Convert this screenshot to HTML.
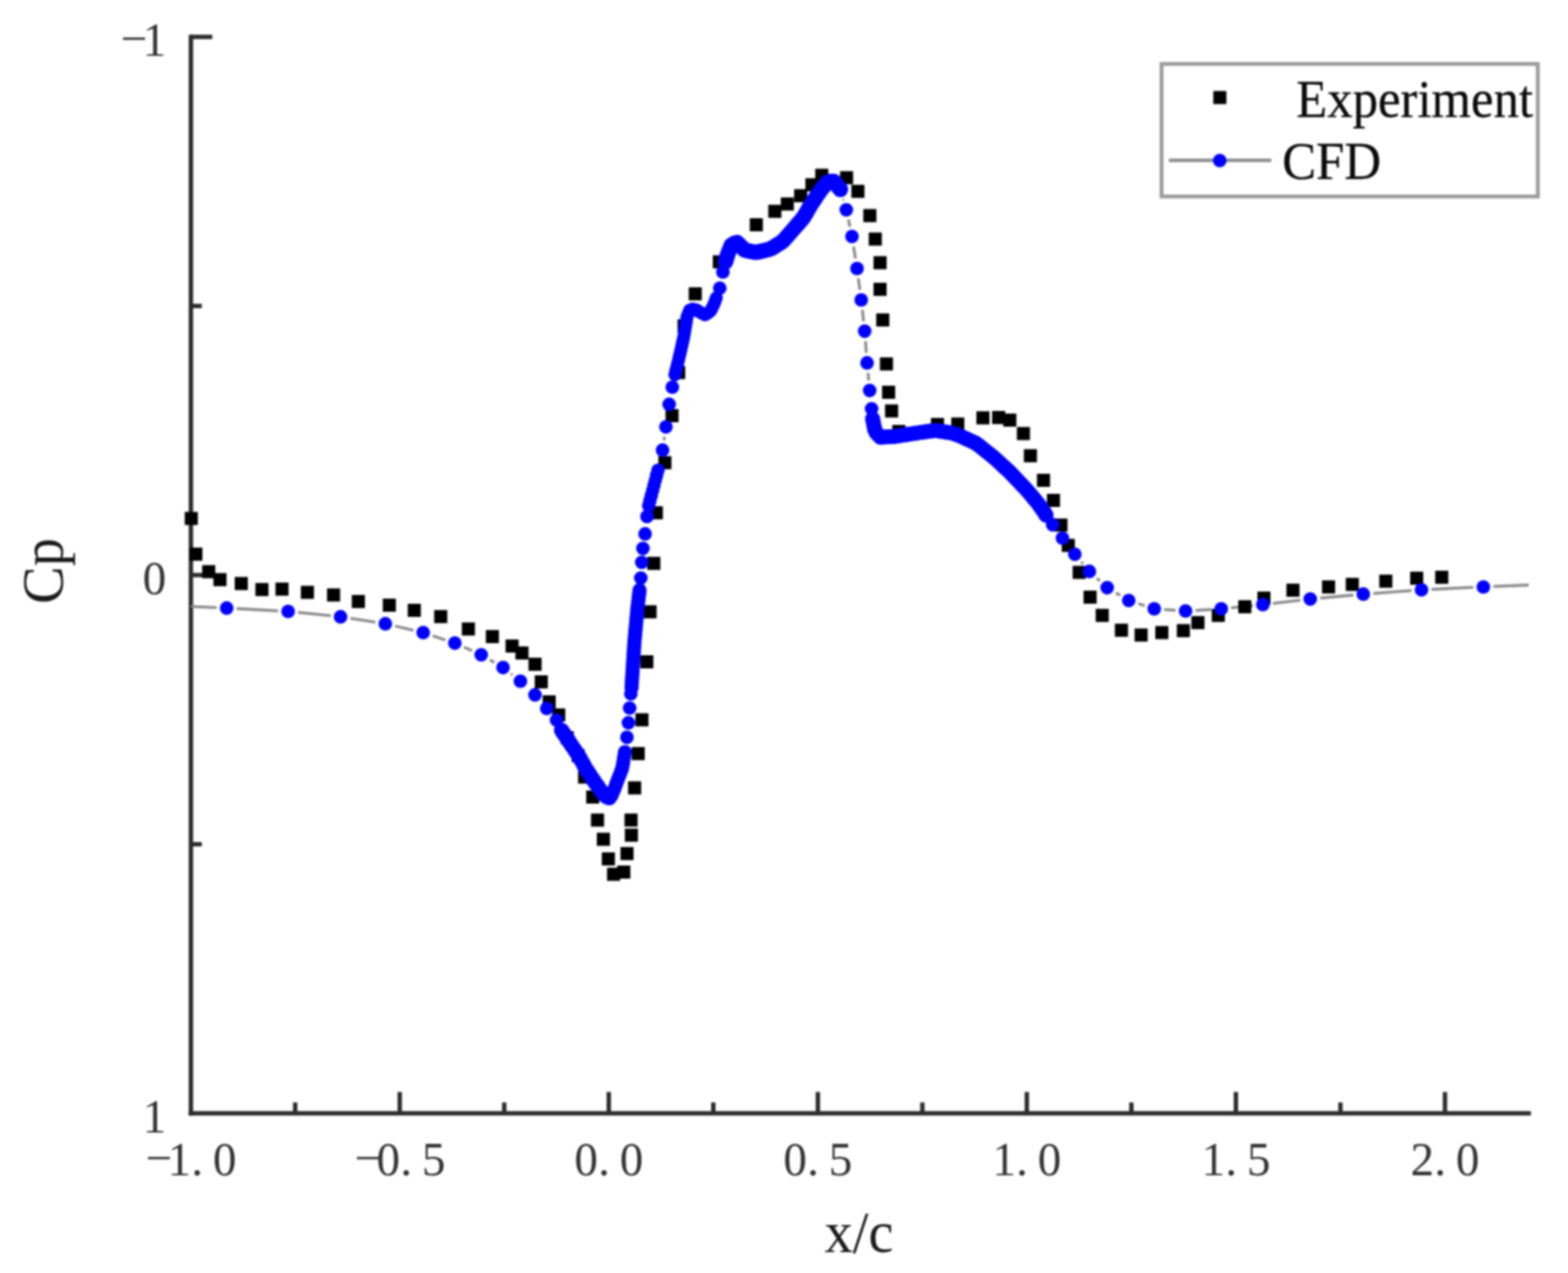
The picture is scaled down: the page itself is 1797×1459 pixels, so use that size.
<!DOCTYPE html>
<html lang="en">
<head>
<meta charset="utf-8">
<title>Cp distribution: Experiment vs CFD</title>
<style>
html,body{margin:0;padding:0;background:#fff;}
body{width:1797px;height:1459px;overflow:hidden;}
svg{display:block;filter:blur(1.0px);}
.tick{font-family:"Liberation Serif","Noto Serif CJK SC",serif;font-size:54px;fill:#333;}
.lab{font-family:"Liberation Serif",serif;font-size:64.7px;fill:#1a1a1a;}
.leg{font-family:"Liberation Serif",serif;font-size:58.2px;fill:#0a0a0a;stroke:#0a0a0a;stroke-width:0.3px;}
</style>
</head>
<body>
<svg width="1797" height="1459" viewBox="0 0 1797 1459">
<rect x="0" y="0" width="1797" height="1459" fill="#ffffff"/>
<g id="axes" stroke="#2b2b2b" stroke-width="5" fill="none" stroke-linecap="butt">
<path d="M218.8 39.8 V1278.5"/>
<path d="M216.3 1276 H1754.5"/>
<path d="M218.8 42.3 H243.3"/>
<path d="M218.8 350.7 H231.3"/>
<path d="M218.8 659.1 H243.3"/>
<path d="M218.8 967.6 H231.3"/>
<path d="M338.3 1276 V1263.5"/>
<path d="M458.1 1276 V1251.5"/>
<path d="M577.9 1276 V1263.5"/>
<path d="M697.7 1276 V1251.5"/>
<path d="M817.5 1276 V1263.5"/>
<path d="M937.3 1276 V1251.5"/>
<path d="M1057.1 1276 V1263.5"/>
<path d="M1176.8 1276 V1251.5"/>
<path d="M1296.6 1276 V1263.5"/>
<path d="M1416.4 1276 V1251.5"/>
<path d="M1536.2 1276 V1263.5"/>
<path d="M1656 1276 V1251.5"/>
</g>
<g id="ticklabels" class="tick">
<text text-anchor="middle" x="182.1 205.6 226.1 257.6" y="1345 1347 1347 1347">−1.0</text>
<text text-anchor="middle" x="421.6 445.1 465.6 497.1" y="1345 1347 1347 1347">−0.5</text>
<text text-anchor="middle" x="671.7 692.2 723.7" y="1347 1347 1347">0.0</text>
<text text-anchor="middle" x="911.3 931.8 963.3" y="1347 1347 1347">0.5</text>
<text text-anchor="middle" x="1150.8 1171.3 1202.8" y="1347 1347 1347">1.0</text>
<text text-anchor="middle" x="1390.4 1410.9 1442.4" y="1347 1347 1347">1.5</text>
<text text-anchor="middle" x="1630 1650.5 1682" y="1347 1347 1347">2.0</text>
<text text-anchor="middle" x="153.5 177" y="62 64">−1</text>
<text text-anchor="middle" x="177" y="681">0</text>
<text text-anchor="middle" x="177" y="1297.5">1</text>
</g>
<text class="lab" transform="translate(984.5 1435) scale(1 1.05)" text-anchor="middle">x/c</text>
<text class="lab" transform="translate(71.5 654.5) rotate(-90) scale(1 1.05)" text-anchor="middle">Cp</text>
<g id="cfd-line" stroke="#8c8c8c" stroke-width="3.3" fill="none">
<path d="M219 695.2L248.3 696.4M271.3 697.5L318.7 700.1M341.6 701.9L378.9 705.7M401.7 708.7L430.2 713.1M452.8 717.5L473.8 722.4M495.9 728.6L510.4 733.5M531.8 741.8L541 745.8M561.4 756.3L566.6 759.3M585.6 772.2L587.3 773.6M756.6 527.7L756.7 527.1M761 504.5L761.5 500.6M764.8 477.8L765.3 474.8M966.3 228.2L966.7 229.5M972.3 251.7L974 259.8M978.2 282.4L980.4 296.3M983.7 319.1L985.5 332.3M988.3 355.1L989.7 368.2M991.9 391.1L992.8 404.4M994.8 427.3L995.6 436.2M1239.2 644L1241.1 646.1M1257 662.7L1260.4 665.8M1278.8 679.5L1283.7 682.3M1304.5 691.8L1311.9 694.2M1334.3 698.6L1347.2 699.5M1370.2 699.6L1388.1 698.5M1411 696.6L1435.9 694.1M1458.7 691.6L1490.2 687.9M1513 685.5L1551 682M1573.9 680.1L1617.6 676.8M1640.6 675.5L1688.5 673.2M1711.5 672.2L1752 670.5"/>
</g>
<g id="experiment" fill="#000">
<rect x="211.7" y="586.7" width="15" height="15"/>
<rect x="217" y="627.6" width="15" height="15"/>
<rect x="231.7" y="647.7" width="15" height="15"/>
<rect x="244.6" y="656.8" width="15" height="15"/>
<rect x="269" y="661.3" width="15" height="15"/>
<rect x="292.7" y="668.2" width="15" height="15"/>
<rect x="315.7" y="667.7" width="15" height="15"/>
<rect x="344.8" y="671.4" width="15" height="15"/>
<rect x="374.8" y="674.4" width="15" height="15"/>
<rect x="403.2" y="681.9" width="15" height="15"/>
<rect x="438.7" y="686.1" width="15" height="15"/>
<rect x="467.3" y="692" width="15" height="15"/>
<rect x="497.6" y="699.2" width="15" height="15"/>
<rect x="529.3" y="713.4" width="15" height="15"/>
<rect x="556.8" y="722.1" width="15" height="15"/>
<rect x="579.4" y="732.9" width="15" height="15"/>
<rect x="590.7" y="740.9" width="15" height="15"/>
<rect x="605.7" y="753.8" width="15" height="15"/>
<rect x="612.8" y="774" width="15" height="15"/>
<rect x="621.9" y="796.9" width="15" height="15"/>
<rect x="632.8" y="811.9" width="15" height="15"/>
<rect x="642.5" y="838" width="15" height="15"/>
<rect x="655.1" y="858.5" width="15" height="15"/>
<rect x="662.5" y="883.1" width="15" height="15"/>
<rect x="671.8" y="906" width="15" height="15"/>
<rect x="677.3" y="932.4" width="15" height="15"/>
<rect x="684" y="954.4" width="15" height="15"/>
<rect x="689.7" y="976.9" width="15" height="15"/>
<rect x="695.7" y="994.5" width="15" height="15"/>
<rect x="707.4" y="992" width="15" height="15"/>
<rect x="711.1" y="970.8" width="15" height="15"/>
<rect x="716.1" y="949.7" width="15" height="15"/>
<rect x="715.7" y="932.4" width="15" height="15"/>
<rect x="719.8" y="895.5" width="15" height="15"/>
<rect x="723.9" y="856.2" width="15" height="15"/>
<rect x="728.2" y="817.5" width="15" height="15"/>
<rect x="733.8" y="751" width="15" height="15"/>
<rect x="737.5" y="693.7" width="15" height="15"/>
<rect x="741.8" y="638.2" width="15" height="15"/>
<rect x="744.7" y="580.2" width="15" height="15"/>
<rect x="754.5" y="522.8" width="15" height="15"/>
<rect x="762.7" y="468.9" width="15" height="15"/>
<rect x="770.3" y="419.5" width="15" height="15"/>
<rect x="776.5" y="366" width="15" height="15"/>
<rect x="789.3" y="329.3" width="15" height="15"/>
<rect x="816.9" y="292.6" width="15" height="15"/>
<rect x="859.3" y="250.1" width="15" height="15"/>
<rect x="880.5" y="234.7" width="15" height="15"/>
<rect x="894.8" y="226.3" width="15" height="15"/>
<rect x="910.1" y="216.8" width="15" height="15"/>
<rect x="923" y="204.3" width="15" height="15"/>
<rect x="934.3" y="193.4" width="15" height="15"/>
<rect x="962.7" y="196.2" width="15" height="15"/>
<rect x="975.7" y="211.8" width="15" height="15"/>
<rect x="989.4" y="239.6" width="15" height="15"/>
<rect x="995.6" y="266.5" width="15" height="15"/>
<rect x="1001.1" y="293.6" width="15" height="15"/>
<rect x="1001.1" y="324.1" width="15" height="15"/>
<rect x="1004.2" y="359.2" width="15" height="15"/>
<rect x="1008.4" y="409.6" width="15" height="15"/>
<rect x="1010.9" y="442.1" width="15" height="15"/>
<rect x="1014.3" y="463.5" width="15" height="15"/>
<rect x="1022.6" y="487" width="15" height="15"/>
<rect x="1066.9" y="479" width="15" height="15"/>
<rect x="1090.2" y="478.5" width="15" height="15"/>
<rect x="1119" y="471.4" width="15" height="15"/>
<rect x="1137" y="471" width="15" height="15"/>
<rect x="1149.8" y="474" width="15" height="15"/>
<rect x="1165.4" y="489.4" width="15" height="15"/>
<rect x="1173.4" y="514.8" width="15" height="15"/>
<rect x="1188.4" y="543" width="15" height="15"/>
<rect x="1199.8" y="566" width="15" height="15"/>
<rect x="1208.4" y="594.3" width="15" height="15"/>
<rect x="1216.8" y="617.6" width="15" height="15"/>
<rect x="1229.3" y="648.5" width="15" height="15"/>
<rect x="1241.8" y="676.9" width="15" height="15"/>
<rect x="1255.7" y="697.8" width="15" height="15"/>
<rect x="1277.7" y="714.8" width="15" height="15"/>
<rect x="1300.3" y="720.3" width="15" height="15"/>
<rect x="1324" y="717.5" width="15" height="15"/>
<rect x="1348.7" y="715.3" width="15" height="15"/>
<rect x="1365.4" y="706.1" width="15" height="15"/>
<rect x="1388.7" y="697.8" width="15" height="15"/>
<rect x="1419.1" y="687.9" width="15" height="15"/>
<rect x="1441" y="678" width="15" height="15"/>
<rect x="1474.3" y="668.9" width="15" height="15"/>
<rect x="1515.1" y="665.2" width="15" height="15"/>
<rect x="1542.3" y="662.3" width="15" height="15"/>
<rect x="1580.7" y="658.6" width="15" height="15"/>
<rect x="1616.1" y="655.2" width="15" height="15"/>
<rect x="1644.8" y="654.1" width="15" height="15"/>
</g>
<g id="cfd" fill="#0000ff">
<circle cx="259.8" cy="696.9" r="7.8"/>
<circle cx="330.2" cy="700.7" r="7.8"/>
<circle cx="390.3" cy="706.9" r="7.8"/>
<circle cx="441.6" cy="714.9" r="7.8"/>
<circle cx="485" cy="725" r="7.8"/>
<circle cx="521.3" cy="737.1" r="7.8"/>
<circle cx="551.5" cy="750.5" r="7.8"/>
<circle cx="576.5" cy="765.1" r="7.8"/>
<circle cx="596.4" cy="780.7" r="7.8"/>
<circle cx="613.1" cy="796.4" r="7.8"/>
<circle cx="626.6" cy="811.9" r="7.8"/>
<circle cx="637.8" cy="825.2" r="7.8"/>
<circle cx="643.6" cy="837" r="8.8"/>
<circle cx="645.8" cy="840.3" r="8.8"/>
<circle cx="648" cy="843.6" r="8.8"/>
<circle cx="650.3" cy="847" r="8.8"/>
<circle cx="652.5" cy="850.3" r="8.8"/>
<circle cx="654.7" cy="853.6" r="8.8"/>
<circle cx="656.9" cy="856.9" r="8.8"/>
<circle cx="659.2" cy="860.3" r="8.8"/>
<circle cx="661.4" cy="863.6" r="8.8"/>
<circle cx="663.5" cy="867" r="8.8"/>
<circle cx="665.5" cy="870.5" r="8.8"/>
<circle cx="667.5" cy="873.9" r="8.8"/>
<circle cx="669.4" cy="877.4" r="8.8"/>
<circle cx="671.4" cy="880.9" r="8.8"/>
<circle cx="673.6" cy="884.2" r="8.8"/>
<circle cx="675.8" cy="887.6" r="8.8"/>
<circle cx="678" cy="890.9" r="8.8"/>
<circle cx="680.2" cy="894.3" r="8.8"/>
<circle cx="682.5" cy="897.6" r="8.8"/>
<circle cx="684.8" cy="900.8" r="8.8"/>
<circle cx="687.1" cy="904.1" r="8.8"/>
<circle cx="689.4" cy="907.4" r="8.8"/>
<circle cx="692.2" cy="910.2" r="8.8"/>
<circle cx="695.1" cy="913" r="8.8"/>
<circle cx="698.2" cy="914.2" r="8.8"/>
<circle cx="701" cy="911.5" r="8"/>
<circle cx="702.6" cy="907.8" r="8"/>
<circle cx="704.2" cy="904.2" r="8"/>
<circle cx="705.5" cy="900.4" r="8"/>
<circle cx="706.9" cy="896.6" r="8"/>
<circle cx="708.3" cy="892.9" r="8"/>
<circle cx="709.8" cy="889.2" r="8"/>
<circle cx="711.2" cy="885.4" r="8"/>
<circle cx="712.7" cy="881.7" r="8"/>
<circle cx="713.6" cy="877.8" r="8"/>
<circle cx="714.2" cy="873.9" r="8"/>
<circle cx="714.9" cy="869.9" r="8"/>
<circle cx="715.5" cy="866" r="8"/>
<circle cx="716.2" cy="862" r="8"/>
<circle cx="718.5" cy="845.1" r="7.8"/>
<circle cx="720.2" cy="828.4" r="7.8"/>
<circle cx="721.6" cy="811.5" r="7.8"/>
<circle cx="723" cy="795.2" r="7.8"/>
<circle cx="723.8" cy="788" r="8.2"/>
<circle cx="724" cy="784" r="8.2"/>
<circle cx="724.3" cy="780" r="8.2"/>
<circle cx="724.5" cy="776" r="8.2"/>
<circle cx="724.8" cy="772" r="8.2"/>
<circle cx="725" cy="768" r="8.2"/>
<circle cx="725.3" cy="764" r="8.2"/>
<circle cx="725.5" cy="760.1" r="8.2"/>
<circle cx="725.8" cy="756.1" r="8.2"/>
<circle cx="726" cy="752.1" r="8.2"/>
<circle cx="726.3" cy="748.1" r="8.2"/>
<circle cx="726.5" cy="744.1" r="8.2"/>
<circle cx="726.8" cy="740.1" r="8.2"/>
<circle cx="727.1" cy="736.1" r="8.2"/>
<circle cx="727.4" cy="732.1" r="8.2"/>
<circle cx="727.8" cy="728.1" r="8.2"/>
<circle cx="728.1" cy="724.1" r="8.2"/>
<circle cx="728.5" cy="720.2" r="8.2"/>
<circle cx="728.8" cy="716.2" r="8.2"/>
<circle cx="729.2" cy="712.2" r="8.2"/>
<circle cx="729.5" cy="708.2" r="8.2"/>
<circle cx="729.9" cy="704.2" r="8.2"/>
<circle cx="730.2" cy="700.2" r="8.2"/>
<circle cx="730.6" cy="696.3" r="8.2"/>
<circle cx="731.1" cy="692.3" r="8.2"/>
<circle cx="731.6" cy="688.3" r="8.2"/>
<circle cx="732" cy="684.3" r="8.2"/>
<circle cx="732.5" cy="680.4" r="8.2"/>
<circle cx="732.9" cy="676.5" r="8.2"/>
<circle cx="734.4" cy="662.6" r="7.8"/>
<circle cx="735.5" cy="644.5" r="7.8"/>
<circle cx="736.8" cy="628.6" r="7.8"/>
<circle cx="739.3" cy="611.9" r="7.8"/>
<circle cx="741.5" cy="591.9" r="7.8"/>
<circle cx="743.4" cy="579.5" r="7.7"/>
<circle cx="744.9" cy="573.7" r="7.7"/>
<circle cx="746.4" cy="567.9" r="7.7"/>
<circle cx="748" cy="562.1" r="7.7"/>
<circle cx="749.5" cy="556.3" r="7.7"/>
<circle cx="751" cy="550.5" r="7.7"/>
<circle cx="752.5" cy="544.7" r="7.7"/>
<circle cx="754.1" cy="538.9" r="7.7"/>
<circle cx="759.3" cy="515.9" r="7.8"/>
<circle cx="763.2" cy="489.2" r="7.8"/>
<circle cx="766.9" cy="463.4" r="7.8"/>
<circle cx="770.5" cy="443.7" r="7.8"/>
<circle cx="773.5" cy="429.5" r="7.5"/>
<circle cx="774.4" cy="425.6" r="7.5"/>
<circle cx="775.4" cy="421.7" r="7.5"/>
<circle cx="776.3" cy="417.8" r="7.5"/>
<circle cx="777.3" cy="414" r="7.5"/>
<circle cx="778.2" cy="410.1" r="7.5"/>
<circle cx="779.1" cy="406.2" r="7.5"/>
<circle cx="780" cy="402.3" r="7.5"/>
<circle cx="780.9" cy="398.4" r="7.5"/>
<circle cx="781.8" cy="394.5" r="7.5"/>
<circle cx="782.7" cy="390.6" r="7.5"/>
<circle cx="783.5" cy="386.7" r="7.5"/>
<circle cx="784.2" cy="382.7" r="7.5"/>
<circle cx="784.9" cy="378.8" r="7.5"/>
<circle cx="785.5" cy="374.8" r="7.5"/>
<circle cx="786.2" cy="370.9" r="7.5"/>
<circle cx="786.8" cy="366.9" r="7.5"/>
<circle cx="787.4" cy="363" r="7.5"/>
<circle cx="788.8" cy="359.3" r="7.5"/>
<circle cx="790.5" cy="355.6" r="7.5"/>
<circle cx="793.8" cy="354.2" r="7.5"/>
<circle cx="797.5" cy="354.9" r="7.5"/>
<circle cx="800.9" cy="357" r="7.5"/>
<circle cx="804.4" cy="358.9" r="7.5"/>
<circle cx="808" cy="360.8" r="7.5"/>
<circle cx="811.3" cy="358.7" r="7.5"/>
<circle cx="814.4" cy="356.2" r="7.5"/>
<circle cx="816.2" cy="352.7" r="7.5"/>
<circle cx="818" cy="349.1" r="7.5"/>
<circle cx="819.4" cy="345.4" r="7.5"/>
<circle cx="820.9" cy="341.6" r="7.5"/>
<circle cx="824.9" cy="330.2" r="7.8"/>
<circle cx="828.5" cy="311.8" r="7.8"/>
<circle cx="831.5" cy="300" r="9"/>
<circle cx="832.6" cy="296.2" r="9"/>
<circle cx="833.8" cy="292.3" r="9"/>
<circle cx="835.1" cy="288.6" r="9"/>
<circle cx="836.6" cy="284.9" r="9"/>
<circle cx="838.2" cy="281.2" r="9"/>
<circle cx="841.2" cy="279" r="9"/>
<circle cx="844.8" cy="278" r="9"/>
<circle cx="847.6" cy="280.8" r="9"/>
<circle cx="850.4" cy="283.6" r="9"/>
<circle cx="853.3" cy="286.5" r="9"/>
<circle cx="857.1" cy="287.4" r="9"/>
<circle cx="861" cy="288.2" r="9"/>
<circle cx="864.9" cy="288.9" r="9"/>
<circle cx="868.8" cy="288.8" r="9"/>
<circle cx="872.7" cy="287.8" r="9"/>
<circle cx="876.6" cy="286.9" r="9"/>
<circle cx="880.5" cy="285.9" r="9"/>
<circle cx="884.2" cy="284.7" r="9"/>
<circle cx="887.6" cy="282.6" r="9"/>
<circle cx="891" cy="280.4" r="9"/>
<circle cx="894.4" cy="278.3" r="9"/>
<circle cx="897.6" cy="276" r="9"/>
<circle cx="900.3" cy="273" r="9"/>
<circle cx="902.9" cy="270" r="9"/>
<circle cx="905.6" cy="267" r="9"/>
<circle cx="908.2" cy="264" r="9"/>
<circle cx="910.8" cy="261" r="9"/>
<circle cx="913.5" cy="257.9" r="9"/>
<circle cx="916.1" cy="254.9" r="9"/>
<circle cx="918.7" cy="251.9" r="9"/>
<circle cx="921.1" cy="248.8" r="9"/>
<circle cx="923.2" cy="245.3" r="9"/>
<circle cx="925.2" cy="241.9" r="9"/>
<circle cx="927.2" cy="238.4" r="9"/>
<circle cx="929.2" cy="235" r="9"/>
<circle cx="931.4" cy="231.6" r="9"/>
<circle cx="933.6" cy="228.3" r="9"/>
<circle cx="935.8" cy="224.9" r="9"/>
<circle cx="938.1" cy="221.6" r="9"/>
<circle cx="940.3" cy="218.3" r="9"/>
<circle cx="942.8" cy="215.2" r="9"/>
<circle cx="945.4" cy="212.1" r="9"/>
<circle cx="948" cy="209.1" r="9"/>
<circle cx="951.6" cy="208" r="9"/>
<circle cx="955.5" cy="207.9" r="9"/>
<circle cx="958" cy="211" r="9"/>
<circle cx="960.6" cy="214.1" r="9"/>
<circle cx="963.1" cy="217.1" r="9"/>
<circle cx="969.9" cy="240.5" r="7.8"/>
<circle cx="976.4" cy="271" r="7.8"/>
<circle cx="982.2" cy="307.7" r="7.8"/>
<circle cx="987" cy="343.7" r="7.8"/>
<circle cx="991" cy="379.6" r="7.8"/>
<circle cx="993.7" cy="415.9" r="7.8"/>
<circle cx="996.7" cy="447.6" r="7.8"/>
<circle cx="998.9" cy="468.5" r="7.8"/>
<circle cx="1000.1" cy="480.2" r="8.7"/>
<circle cx="1000.8" cy="484.1" r="8.7"/>
<circle cx="1001.6" cy="488.1" r="8.7"/>
<circle cx="1002.3" cy="492" r="8.7"/>
<circle cx="1004" cy="495.5" r="8.7"/>
<circle cx="1006.5" cy="498.6" r="8.7"/>
<circle cx="1009.3" cy="501.1" r="8.7"/>
<circle cx="1013.3" cy="500.8" r="8.7"/>
<circle cx="1017.3" cy="500.6" r="8.7"/>
<circle cx="1021.3" cy="500.4" r="8.7"/>
<circle cx="1025.3" cy="500.2" r="8.7"/>
<circle cx="1029.2" cy="499.6" r="8.7"/>
<circle cx="1033.2" cy="498.9" r="8.7"/>
<circle cx="1037.1" cy="498.3" r="8.7"/>
<circle cx="1041.1" cy="497.7" r="8.7"/>
<circle cx="1045" cy="497.1" r="8.7"/>
<circle cx="1049" cy="496.5" r="8.7"/>
<circle cx="1052.9" cy="495.9" r="8.7"/>
<circle cx="1056.9" cy="495.4" r="8.7"/>
<circle cx="1060.9" cy="494.8" r="8.7"/>
<circle cx="1064.8" cy="494.2" r="8.7"/>
<circle cx="1068.8" cy="493.7" r="8.7"/>
<circle cx="1072.7" cy="493.3" r="8.7"/>
<circle cx="1076.7" cy="494" r="8.7"/>
<circle cx="1080.6" cy="494.6" r="8.7"/>
<circle cx="1084.6" cy="495.3" r="8.7"/>
<circle cx="1088.5" cy="495.9" r="8.7"/>
<circle cx="1092.4" cy="496.7" r="8.7"/>
<circle cx="1096.2" cy="498" r="8.7"/>
<circle cx="1100" cy="499.4" r="8.7"/>
<circle cx="1103.6" cy="501.1" r="8.7"/>
<circle cx="1107.2" cy="502.8" r="8.7"/>
<circle cx="1110.9" cy="504.4" r="8.7"/>
<circle cx="1114.5" cy="506.1" r="8.7"/>
<circle cx="1118.1" cy="507.8" r="8.7"/>
<circle cx="1121.4" cy="510.1" r="8.7"/>
<circle cx="1124.5" cy="512.6" r="8.7"/>
<circle cx="1127.6" cy="515.1" r="8.7"/>
<circle cx="1130.7" cy="517.6" r="8.7"/>
<circle cx="1133.9" cy="520.1" r="8.7"/>
<circle cx="1137" cy="522.6" r="8.7"/>
<circle cx="1140" cy="525.2" r="8.7"/>
<circle cx="1143" cy="527.9" r="8.7"/>
<circle cx="1145.9" cy="530.6" r="8.7"/>
<circle cx="1148.8" cy="533.3" r="8.7"/>
<circle cx="1151.8" cy="536" r="8.7"/>
<circle cx="1154.7" cy="538.7" r="8.7"/>
<circle cx="1157.7" cy="541.5" r="8.7"/>
<circle cx="1160.4" cy="544.4" r="8.7"/>
<circle cx="1163.2" cy="547.3" r="8.7"/>
<circle cx="1165.9" cy="550.2" r="8.7"/>
<circle cx="1168.7" cy="553.1" r="8.7"/>
<circle cx="1171.4" cy="556" r="8.7"/>
<circle cx="1174.2" cy="558.9" r="8.7"/>
<circle cx="1176.9" cy="561.8" r="8.7"/>
<circle cx="1179.5" cy="564.8" r="8.7"/>
<circle cx="1182" cy="567.9" r="8.7"/>
<circle cx="1184.6" cy="571" r="8.7"/>
<circle cx="1187.2" cy="574.1" r="8.7"/>
<circle cx="1189.7" cy="577.1" r="8.7"/>
<circle cx="1192" cy="580.4" r="8.7"/>
<circle cx="1194.3" cy="583.7" r="8.7"/>
<circle cx="1196.6" cy="587" r="8.7"/>
<circle cx="1198.8" cy="590.3" r="8.7"/>
<circle cx="1206.4" cy="601.4" r="7.8"/>
<circle cx="1217.6" cy="616.8" r="7.8"/>
<circle cx="1231.8" cy="635.2" r="7.8"/>
<circle cx="1248.5" cy="654.9" r="7.8"/>
<circle cx="1268.9" cy="673.6" r="7.8"/>
<circle cx="1293.6" cy="688.2" r="7.8"/>
<circle cx="1322.8" cy="697.8" r="7.8"/>
<circle cx="1358.7" cy="700.3" r="7.8"/>
<circle cx="1399.6" cy="697.8" r="7.8"/>
<circle cx="1447.3" cy="692.9" r="7.8"/>
<circle cx="1501.6" cy="686.6" r="7.8"/>
<circle cx="1562.4" cy="680.9" r="7.8"/>
<circle cx="1629.1" cy="676" r="7.8"/>
<circle cx="1700" cy="672.7" r="7.8"/>
</g>
<g id="legend">
<rect x="1331.2" y="73.3" width="431.2" height="151.9" fill="#fff" stroke="#9c9c9c" stroke-width="4.4"/>
<rect x="1390.5" y="104.3" width="15" height="15" fill="#000"/>
<path d="M1339.5 183.8H1457" stroke="#8c8c8c" stroke-width="3.9" fill="none"/>
<circle cx="1397.9" cy="184" r="7.8" fill="#0000ff"/>
<text class="leg" transform="translate(1485.5 133.8) scale(1 1.04)">Experiment</text>
<text class="leg" transform="translate(1469.5 205) scale(1 1.04)">CFD</text>
</g>
</svg>
</body>
</html>
